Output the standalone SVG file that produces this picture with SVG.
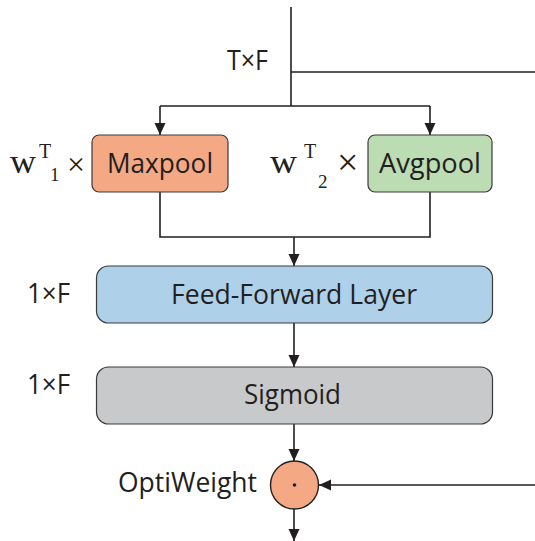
<svg xmlns="http://www.w3.org/2000/svg" width="535" height="541" viewBox="0 0 535 541">
<style>
.ln{stroke:#231f20;stroke-width:1.6;fill:none}
.box{stroke:#3a3a3a;stroke-width:1.2}
.t{font-family:"Open Sans","Liberation Sans",sans-serif;font-size:27px;fill:#231f20}
.s{font-family:"Liberation Serif",serif;fill:#231f20}
</style>
<defs>
<marker id="ah" markerWidth="12" markerHeight="12" refX="12" refY="5.5" orient="auto" markerUnits="userSpaceOnUse">
<path d="M0,0 L12,5.5 L0,11 Z" fill="#231f20"/>
</marker>
</defs>
<rect width="535" height="541" fill="#fff"/>
<g id="connectors">
<path class="ln" d="M291,7 V106"/>
<path class="ln" d="M291,72 H535"/>
<path class="ln" d="M160,106 H430"/>
<path class="ln" d="M160,106 V135" marker-end="url(#ah)"/>
<path class="ln" d="M430,106 V135" marker-end="url(#ah)"/>
<path class="ln" d="M160,192 V237 H430 V192"/>
<path class="ln" d="M294,237 V266" marker-end="url(#ah)"/>
<path class="ln" d="M294,323 V367" marker-end="url(#ah)"/>
<path class="ln" d="M294,424 V461" marker-end="url(#ah)"/>
<path class="ln" d="M535,485 H319" marker-end="url(#ah)"/>
<path class="ln" d="M294,509 V541" marker-end="url(#ah)"/>
</g>
<g id="labels">
<text class="t" x="227" y="70" textLength="41" lengthAdjust="spacingAndGlyphs">T×F</text>
<text class="t" x="27" y="303" textLength="43" lengthAdjust="spacingAndGlyphs">1×F</text>
<text class="t" x="27" y="394" textLength="43" lengthAdjust="spacingAndGlyphs">1×F</text>
<text class="t" x="118" y="492" textLength="139" lengthAdjust="spacingAndGlyphs">OptiWeight</text>
<text class="s" x="10" y="173" font-size="33" textLength="26" lengthAdjust="spacingAndGlyphs">w</text>
<text class="s" x="39" y="158" font-size="20">T</text>
<text class="s" x="50" y="181" font-size="19">1</text>
<text class="s" x="67" y="175" font-size="32">×</text>
<text class="s" x="270" y="173" font-size="33" textLength="27" lengthAdjust="spacingAndGlyphs">w</text>
<text class="s" x="304" y="158" font-size="20">T</text>
<text class="s" x="318" y="188" font-size="19">2</text>
<text class="s" x="337" y="175" font-size="38">×</text>
</g>
<g id="maxpool">
<rect class="box" x="92" y="135" width="136" height="57" rx="7" fill="#f4a984"/>
<text class="t" x="107" y="173" textLength="106" lengthAdjust="spacingAndGlyphs">Maxpool</text>
</g>
<g id="avgpool">
<rect class="box" x="368" y="135" width="124" height="57" rx="7" fill="#bcdcb3"/>
<text class="t" x="379" y="173" textLength="102" lengthAdjust="spacingAndGlyphs">Avgpool</text>
</g>
<g id="ffl">
<rect class="box" x="96.5" y="266" width="396" height="57" rx="12" fill="#aed0e9"/>
<text class="t" x="171" y="304" textLength="246" lengthAdjust="spacingAndGlyphs">Feed-Forward Layer</text>
</g>
<g id="sigmoid">
<rect class="box" x="96.5" y="367" width="396" height="57" rx="12" fill="#c8c9cb"/>
<text class="t" x="244" y="404" textLength="97" lengthAdjust="spacingAndGlyphs">Sigmoid</text>
</g>
<g id="optiweight">
<circle cx="294.5" cy="485" r="24" fill="#f4a984" stroke="#231f20" stroke-width="1.4"/>
<circle cx="294.5" cy="485" r="1.8" fill="#231f20"/>
</g>
</svg>
